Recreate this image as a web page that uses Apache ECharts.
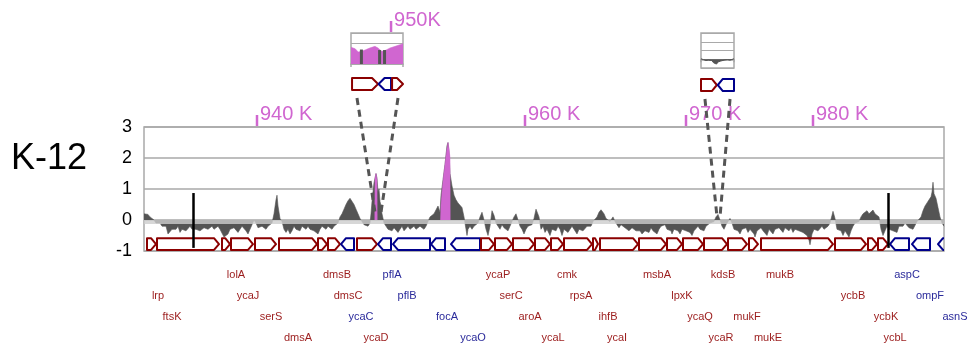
<!DOCTYPE html>
<html>
<head>
<meta charset="utf-8">
<title>K-12 coverage</title>
<script src="https://cdn.jsdelivr.net/npm/echarts@6/dist/echarts.min.js"></script>
<style>
  html, body { margin: 0; padding: 0; background: #fff; }
  #chart { width: 971px; height: 351px; }
</style>
</head>
<body>
<div id="chart"></div>
<script>
// track position runs 0..800 along the window; values are log ratios
const coverage = [
  [0,0.2],[2,0.22],[4,0.18],[6,0.1],[8,0.05],[10,0],[12,-0.1],[14,-0.15],[16,-0.1],[18,-0.2],
  [20,-0.25],[22,-0.2],[24,-0.45],[26,-0.5],[28,-0.3],[30,-0.25],[32,-0.3],[34,-0.2],[36,-0.4],[38,-0.3],
  [40,-0.25],[42,-0.35],[44,-0.3],[46,-0.2],[48,-0.3],[52,-0.3],[54,-0.25],[56,-0.35],[58,-0.4],[60,-0.25],
  [62,-0.2],[64,-0.3],[66,-0.25],[68,-0.2],[70,-0.3],[72,-0.25],[74,-0.2],[76,-0.3],[78,-0.35],[80,-0.55],
  [82,-0.6],[84,-0.45],[86,-0.3],[88,-0.35],[90,-0.25],[92,-0.3],[94,-0.4],[96,-0.3],[98,-0.2],[100,-0.25],
  [102,-0.35],[104,-0.45],[106,-0.3],[108,-0.15],[110,0],[112,-0.1],[114,-0.25],[116,-0.3],[118,-0.2],[120,-0.25],
  [122,-0.3],[124,-0.2],[126,-0.25],[128,-0.1],[130,0.2],[132,0.65],[133,0.8],[134,0.45],[136,0.05],[138,-0.05],
  [140,-0.3],[142,-0.4],[144,-0.3],[146,-0.45],[148,-0.35],[150,-0.2],[152,-0.3],[154,-0.25],[156,-0.35],[158,-0.2],
  [160,-0.25],[162,-0.3],[164,-0.2],[166,-0.3],[168,-0.25],[170,-0.35],[172,-0.3],[174,-0.45],[176,-0.3],[178,-0.2],
  [180,-0.25],[182,-0.3],[184,-0.2],[186,-0.25],[188,-0.3],[190,-0.2],[192,-0.25],[194,-0.1],[196,0.1],[198,0.2],
  [200,0.35],[202,0.5],[204,0.62],[206,0.7],[208,0.65],[210,0.5],[212,0.35],[214,0.2],[216,0.05],[218,-0.05],
  [220,-0.15],[222,-0.1],[224,-0.2],[226,-0.1],[227,0.2],[228,0.6],[229,0.9],[230,1.2],[232,1.5],[233,1.35],
  [234,0.9],[235,1.0],[236,0.6],[237,0.45],[238,0.2],[240,-0.1],[242,-0.15],[244,-0.3],[246,-0.25],[248,-0.35],
  [250,-0.25],[252,-0.3],[254,-0.4],[256,-0.3],[258,-0.2],[260,-0.35],[262,-0.3],[264,-0.2],[266,-0.3],[268,-0.25],
  [270,-0.2],[272,-0.3],[274,-0.35],[276,-0.2],[278,-0.25],[280,-0.3],[282,-0.2],[284,-0.05],[286,0.1],[288,0.15],
  [290,0.2],[292,0.25],[294,0.45],[296,0.25],[297,0.8],[299,1.3],[301,1.8],[303,2.4],[304,2.5],[305,2.2],
  [306,1.5],[308,1.1],[310,0.8],[312,0.65],[314,0.55],[316,0.5],[318,0.4],[320,0.1],[322,-0.3],[323,-0.5],
  [324,-0.3],[326,-0.2],[328,-0.3],[330,-0.2],[332,-0.15],[334,-0.1],[336,0.1],[338,0.25],[340,0],[342,-0.3],
  [344,-0.5],[346,-0.2],[348,0.3],[350,0.15],[352,-0.1],[354,-0.2],[356,-0.3],[358,-0.15],[360,-0.25],[362,-0.3],
  [364,-0.35],[366,-0.2],[368,-0.05],[370,0.1],[372,0.2],[374,0.15],[376,-0.2],[378,-0.3],[380,-0.45],[382,-0.3],
  [384,-0.2],[386,-0.25],[388,-0.15],[390,0.05],[392,0.35],[393,0.4],[395,0.1],[397,-0.3],[399,-0.2],[401,-0.4],
  [403,-0.3],[405,-0.35],[406,-0.5],[408,-0.3],[410,-0.25],[412,-0.35],[414,-0.2],[416,-0.3],[418,-0.5],[420,-0.3],
  [422,-0.25],[424,-0.4],[426,-0.3],[428,-0.2],[430,-0.3],[432,-0.35],[433,-0.45],[435,-0.3],[437,-0.25],[439,-0.35],
  [441,-0.3],[443,-0.2],[445,-0.15],[447,-0.2],[449,-0.05],[451,0],[453,0.1],[455,0.25],[457,0.33],[458,0.35],
  [460,0.2],[462,0.05],[464,0],[466,-0.05],[468,0],[469,0.1],[471,-0.05],[473,-0.15],[475,-0.25],[477,-0.15],
  [479,-0.2],[481,-0.25],[483,-0.3],[485,-0.35],[486,-0.4],[488,-0.25],[490,-0.3],[492,-0.35],[494,-0.4],[496,-0.35],
  [498,-0.45],[499,-0.5],[501,-0.35],[503,-0.3],[505,-0.4],[507,-0.25],[509,-0.35],[511,-0.3],[513,-0.45],[515,-0.3],
  [517,-0.2],[519,-0.25],[521,-0.15],[523,-0.3],[525,-0.25],[527,-0.35],[528,-0.45],[530,-0.3],[532,-0.25],[534,-0.35],
  [536,-0.45],[538,-0.3],[540,-0.25],[542,-0.35],[544,-0.3],[546,-0.4],[548,-0.5],[550,-0.35],[552,-0.3],[554,-0.2],
  [556,-0.3],[558,-0.25],[560,-0.35],[562,-0.2],[564,-0.15],[566,-0.1],[568,-0.15],[570,-0.05],[572,0.1],[574,0.18],
  [576,0],[578,-0.2],[580,-0.3],[582,-0.15],[584,-0.1],[586,0.05],[588,-0.1],[590,-0.3],[592,-0.25],[594,-0.35],
  [596,-0.45],[598,-0.3],[600,-0.35],[602,-0.25],[604,-0.4],[606,-0.3],[608,-0.35],[610,-0.45],[611,-0.55],[613,-0.35],
  [615,-0.3],[617,-0.25],[619,-0.35],[621,-0.3],[623,-0.5],[625,-0.3],[627,-0.25],[629,-0.45],[631,-0.3],[633,-0.35],
  [635,-0.25],[637,-0.3],[639,-0.4],[641,-0.25],[643,-0.3],[645,-0.35],[647,-0.25],[649,-0.4],[651,-0.3],[653,-0.25],
  [655,-0.35],[657,-0.3],[659,-0.4],[661,-0.35],[663,-0.5],[665,-0.65],[666,-0.8],[668,-0.45],[670,-0.3],[672,-0.25],
  [674,-0.35],[676,-0.3],[678,-0.2],[680,-0.3],[682,-0.25],[684,-0.2],[686,-0.1],[688,0.15],[689,0.28],[691,0.05],
  [693,-0.3],[695,-0.25],[697,-0.35],[699,-0.5],[701,-0.35],[703,-0.4],[705,-0.55],[707,-0.35],[709,-0.2],[711,-0.1],
  [713,-0.15],[715,-0.05],[717,0.1],[719,0.2],[721,0.25],[723,0.3],[725,0.2],[727,0.25],[729,0.32],[731,0.2],
  [733,0.25],[735,0.1],[737,-0.3],[739,-0.5],[741,-0.35],[743,-0.2],[745,-0.3],[747,-0.25],[749,-0.35],[751,-0.3],
  [753,-0.4],[755,-0.2],[757,-0.15],[759,-0.2],[761,-0.1],[763,-0.15],[765,-0.25],[767,-0.2],[769,-0.3],[771,-0.25],
  [773,-0.05],[775,0],[777,0.1],[779,0.3],[781,0.45],[783,0.55],[785,0.65],[787,0.75],[788,0.9],[789,1.22],
  [790,0.85],[792,0.7],[794,0.4],[796,0.1],[798,-0.1],[800,-0.2]
];

// highlighted (magenta) stretches
const peakA = [[230.8,0],[231,1.35],[232,1.5],[233,1.3],[233.2,0]];
const peakB = [[296.5,0],[297,0.5],[298,0.9],[299.5,1.4],[301,1.8],[302.5,2.2],[304,2.5],[305,2.3],[306,2.0],[306.2,0]];

// black marker lines [position, top, bottom]
const markers = [[49.5,0.87,-0.9],[744.5,0.87,-0.9]];

// genes: [start, end, strand]
const genes = [
  [3,12,1],[13,75,1],[78,86,1],[87,109,1],[111,132,1],[135,173,1],[174,183,1],[184,196,1],
  [197,210,-1],[213,233,1],[234,247,-1],[249,286,-1],[287,301,-1],[307,336,-1],[337,350,1],[351,368,1],
  [369,390,1],[391,406,1],[407,419,1],[420,448,1],[449,454,1],[456,494,1],[495,522,1],[523,538,1],
  [539,559,1],[560,583,1],[584,603,1],[605,614,1],[617,689,1],[691,722,1],[724,733,1],[734,744,1],
  [746,765,-1],[768,786,-1],[794,808,-1]
];

const labelNames = ['lolA','dmsB','pflA','ycaP','cmk','msbA','kdsB','mukB','aspC',
  'lrp','ycaJ','dmsC','pflB','serC','rpsA','lpxK','ycbB','ompF',
  'ftsK','serS','ycaC','focA','aroA','ihfB','ycaQ','mukF','ycbK','asnS',
  'dmsA','ycaD','ycaO','ycaL','ycaI','ycaR','mukE','ycbL'];
const labelPos = [92,193,248,354,423,513,579,636,763,
  14,104,204,263,367,437,538,709,786,
  28,127,217,303,386,464,556,603,742,811,
  154,232,329,409,473,577,624,751];
const labelRow = [1,1,1,1,1,1,1,1,1, 2,2,2,2,2,2,2,2,2, 3,3,3,3,3,3,3,3,3,3, 4,4,4,4,4,4,4,4];
const labelStrand = [1,1,-1,1,1,1,1,1,-1, 1,1,1,-1,1,1,1,1,-1, 1,1,-1,-1,1,1,1,1,1,-1, 1,1,-1,1,1,1,1,1];

const tickPos = [113, 381, 542, 669];
const tickText = ['940 K', '960 K', '970 K', '980 K'];

// zoomed insets (x runs 0..100 across each inset)
const inset1Fill = [[0,1.62],[8,1.48],[14,1.16],[20,1.23],[27,1.35],[36,1.55],[46,1.71],[52,1.55],[59,1.23],[65,1.29],[75,1.55],[85,1.71],[94,1.87],[100,1.97]];
const inset1Bars = [[20,1.4],[55,1.35],[64.5,1.35]];
const inset1Genes = [[2,52,1],[53,77,-1],[79,100,1]];
const inset1TickPos = [77];
const inset1TickText = ['950K'];
const inset2Signal = [[0,0.05],[8,-0.05],[15,-0.15],[22,-0.1],[28,-0.3],[33,-0.15],[38,-0.4],[42,-0.25],[47,-0.55],[52,-0.3],[56,-0.5],[60,-0.2],[65,-0.35],[70,-0.1],[75,-0.2],[80,-0.05],[88,-0.1],[94,0],[100,0.05]];
const inset2Genes = [[0,48,1],[51,100,-1]];

// connectors: inset gene grid x pair -> main track x pair
const zoomLinks = [
  { xAxis: 3, top: [11.5, 90.4], main: [231, 237], level: 0.25 },
  { xAxis: 5, top: [12, 88], main: [573, 576], level: 0.1 }
];

const GRAY = '#545454';
const MAG = '#d066d0';
const RED = '#8b0000';
const BLUE = '#00008b';
const GRID = '#a9a9a9';
const FONT = '"Liberation Sans", Arial, sans-serif';

const geneRenderer = (yTop, yBot, head) => (params, api) => {
  const a = api.coord([api.value(0), yTop]);
  const b = api.coord([api.value(1), yBot]);
  const x0 = a[0], x1 = b[0], y0 = a[1], y1 = b[1], ym = (y0 + y1) / 2;
  const h = Math.min(head, (x1 - x0) * 0.6);
  const fwd = api.value(2) > 0;
  const pts = fwd
    ? [[x0, y0], [x1 - h, y0], [x1, ym], [x1 - h, y1], [x0, y1]]
    : [[x0 + h, y0], [x1, y0], [x1, y1], [x0 + h, y1], [x0, ym]];
  return {
    type: 'polygon',
    shape: { points: pts },
    style: { fill: 'none', stroke: fwd ? RED : BLUE, lineWidth: 2, lineJoin: 'round' }
  };
};

const tickRenderer = (texts, yVal) => (params, api) => {
  const p = api.coord([api.value(0), yVal]);
  return {
    type: 'group',
    children: [
      { type: 'line', shape: { x1: p[0], y1: p[1] - 1, x2: p[0], y2: p[1] - 12 }, style: { stroke: MAG, lineWidth: 2.5 } },
      { type: 'text', x: p[0] + 3, y: p[1] - 13,
        style: { text: texts[params.dataIndex], fill: MAG, font: '20px ' + FONT, align: 'left', verticalAlign: 'middle' } }
    ]
  };
};

const hiddenX = (gridIndex, max) => ({ gridIndex, type: 'value', min: 0, max, show: false });
const hiddenY = (gridIndex, min, max, inverse) => ({ gridIndex, type: 'value', min, max, inverse: !!inverse, show: false });
const insetX = (gridIndex, offset) => ({
  gridIndex, type: 'value', min: 0, max: 100, interval: 100, offset,
  axisLine: { show: true, lineStyle: { color: GRID, width: 1.5 } },
  axisTick: { show: true, length: 3, lineStyle: { color: GRID, width: 1.5 } },
  axisLabel: { show: false }, splitLine: { show: false }
});
const insetY = (gridIndex, min, max) => ({
  gridIndex, type: 'value', min, max, interval: 1,
  axisLine: { show: false }, axisTick: { show: false }, axisLabel: { show: false },
  splitLine: { show: true, lineStyle: { color: GRID, width: 1.2 } }
});

const chart = echarts.init(document.getElementById('chart'));

const option = {
  animation: false,
  backgroundColor: '#fff',
  graphic: [
    { type: 'text', left: 11, top: 141, style: { text: 'K-12', font: '36px ' + FONT, fill: '#000' } }
  ],
  grid: [
    { left: 144, top: 127, width: 800, height: 124, show: true, borderColor: GRID, borderWidth: 1.5 },
    { left: 144, top: 264, width: 800, height: 84 },
    { left: 351, top: 33, width: 52, height: 31, show: true, borderColor: GRID, borderWidth: 1.5 },
    { left: 351, top: 77, width: 52, height: 14 },
    { left: 701, top: 33, width: 33, height: 35, show: true, borderColor: GRID, borderWidth: 1.5 },
    { left: 701, top: 78, width: 33, height: 14 }
  ],
  xAxis: [
    hiddenX(0, 800),
    hiddenX(1, 800),
    insetX(2, 5),
    hiddenX(3, 100),
    insetX(4, 0),
    hiddenX(5, 100)
  ],
  yAxis: [
    {
      gridIndex: 0, type: 'value', min: -1, max: 3, interval: 1,
      axisLine: { show: false }, axisTick: { show: false },
      axisLabel: { color: '#000', fontSize: 18, fontFamily: FONT, margin: 12 },
      splitLine: { show: true, lineStyle: { color: GRID, width: 1.5 } }
    },
    hiddenY(1, 0.5, 4.5, true),
    insetY(2, 0, 3),
    hiddenY(3, 0, 1),
    insetY(4, -1, 3),
    hiddenY(5, 0, 1)
  ],
  series: [
    {
      type: 'line', xAxisIndex: 0, yAxisIndex: 0, data: coverage,
      symbol: 'none', z: 2,
      lineStyle: { color: GRAY, width: 0.6 },
      areaStyle: { color: GRAY, opacity: 1 },
      markLine: {
        silent: true, symbol: 'none', animation: false, label: { show: false },
        data: [
          { yAxis: -0.05, lineStyle: { color: 'rgba(205,205,205,0.8)', width: 4, type: 'solid' } },
          ...markers.map(m => [
            { coord: [m[0], m[1]], lineStyle: { color: '#000', width: 2.5, type: 'solid' } },
            { coord: [m[0], m[2]] }
          ])
        ]
      }
    },
    {
      type: 'line', xAxisIndex: 0, yAxisIndex: 0, data: peakA, symbol: 'none', z: 3,
      lineStyle: { color: MAG, width: 0.5 }, areaStyle: { color: MAG, opacity: 1 }
    },
    {
      type: 'line', xAxisIndex: 0, yAxisIndex: 0, data: peakB, symbol: 'none', z: 3,
      lineStyle: { color: MAG, width: 0.5 }, areaStyle: { color: MAG, opacity: 1 }
    },
    {
      type: 'custom', xAxisIndex: 0, yAxisIndex: 0, data: genes, clip: true, z: 4,
      encode: { x: [0, 1] },
      renderItem: geneRenderer(-0.585, -0.965, 5)
    },
    {
      type: 'custom', xAxisIndex: 0, yAxisIndex: 0, data: tickPos.map(p => [p, 3]), z: 4,
      encode: { x: 0, y: 1 },
      renderItem: tickRenderer(tickText, 3)
    },
    {
      type: 'custom', xAxisIndex: 1, yAxisIndex: 1,
      data: labelPos.map((p, i) => [p, labelRow[i]]),
      encode: { x: 0, y: 1 },
      renderItem: (params, api) => {
        const p = api.coord([api.value(0), api.value(1)]);
        const i = params.dataIndex;
        return {
          type: 'text', x: p[0], y: p[1],
          style: {
            text: labelNames[i], fill: labelStrand[i] > 0 ? '#9b1c1c' : '#2b2b9b',
            font: '11px ' + FONT, align: 'center', verticalAlign: 'middle'
          }
        };
      }
    },
    // inset 1
    {
      type: 'line', xAxisIndex: 2, yAxisIndex: 2, data: inset1Fill, symbol: 'none', z: 2,
      lineStyle: { color: MAG, width: 0.5 }, areaStyle: { color: MAG, opacity: 1, origin: 'start' }
    },
    {
      type: 'bar', xAxisIndex: 2, yAxisIndex: 2, data: inset1Bars, barWidth: 3, z: 3,
      itemStyle: { color: GRAY }
    },
    {
      type: 'custom', xAxisIndex: 2, yAxisIndex: 2, data: inset1TickPos.map(p => [p, 3]), z: 4,
      encode: { x: 0, y: 1 },
      renderItem: tickRenderer(inset1TickText, 3)
    },
    {
      type: 'custom', xAxisIndex: 3, yAxisIndex: 3, data: inset1Genes,
      encode: { x: [0, 1] },
      renderItem: geneRenderer(0.93, 0.07, 6)
    },
    // inset 2
    {
      type: 'line', xAxisIndex: 4, yAxisIndex: 4, data: inset2Signal, symbol: 'none', z: 2,
      lineStyle: { color: GRAY, width: 1 }, areaStyle: { color: GRAY, opacity: 1 }
    },
    {
      type: 'custom', xAxisIndex: 5, yAxisIndex: 5, data: inset2Genes,
      encode: { x: [0, 1] },
      renderItem: geneRenderer(0.93, 0.07, 5)
    }
  ]
};

chart.setOption(option);

// dashed connectors from the insets down to the zoomed stretch of the track
const links = [];
zoomLinks.forEach(z => {
  [0, 1].forEach(k => {
    const a = chart.convertToPixel({ xAxisIndex: z.xAxis, yAxisIndex: z.xAxis }, [z.top[k], -0.5]);
    const b = chart.convertToPixel({ xAxisIndex: 0, yAxisIndex: 0 }, [z.main[k], z.level]);
    links.push({
      type: 'line', z: 100,
      shape: { x1: a[0], y1: a[1], x2: b[0], y2: b[1] },
      style: { stroke: '#555', lineWidth: 3, lineDash: [7, 5] }
    });
  });
});
chart.setOption({ graphic: option.graphic.concat(links) });
</script>
</body>
</html>
